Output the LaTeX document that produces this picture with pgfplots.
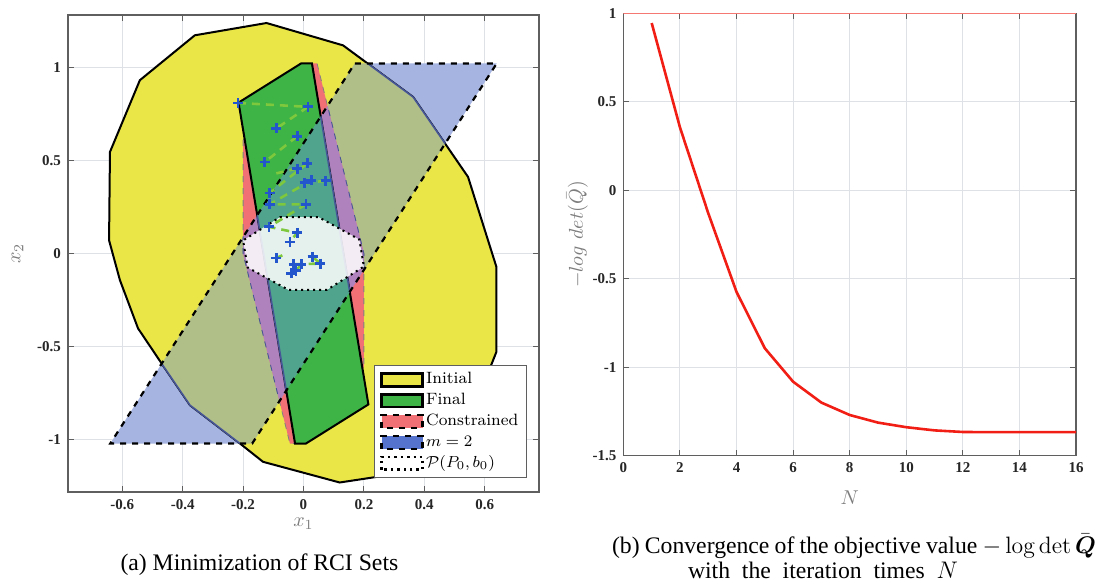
\documentclass[border=0pt]{standalone}
\usepackage{amsmath}
\usepackage{fontspec}
\usepackage{pgfplots}
\pgfplotsset{compat=1.18}
\newfontfamily\timesfont{Liberation Serif}
\definecolor{cyel}{RGB}{234,230,72}
\definecolor{cgreen}{RGB}{62,180,70}
\definecolor{cred}{RGB}{240,112,118}
\definecolor{cblue}{RGB}{85,115,205}
\definecolor{cbluel}{RGB}{165,180,225}
\definecolor{colive}{RGB}{176,190,135}
\definecolor{cteal}{RGB}{80,163,140}
\definecolor{cpurple}{RGB}{175,130,190}
\definecolor{cedge}{RGB}{70,85,150}
\definecolor{ctraj}{RGB}{125,200,60}
\definecolor{cmark}{RGB}{35,85,205}
\definecolor{cgrid}{RGB}{222,226,230}
\definecolor{caxis}{RGB}{95,95,95}
\definecolor{clabel}{RGB}{125,125,125}
\definecolor{ccurve}{RGB}{240,30,20}
\pgfplotsset{myarea/.style={legend image code/.code={\draw[##1] (0pt,-3.2pt) rectangle (20.5pt,3.2pt);}},
  common/.style={scale only axis, grid=major, major grid style={cgrid, line width=0.5pt},
    tick align=inside, xtick pos=both, ytick pos=both, major tick length=3pt,
    axis line style={caxis, line width=0.6pt}, tick style={caxis, line width=0.5pt},
    ticklabel style={font=\timesfont\bfseries\fontsize{7.5}{8}\selectfont, text=black!85},
    /pgf/number format/assume math mode=true,
    label style={font=\fontsize{10}{12}\selectfont, text=clabel}}}
\begin{document}
\begin{tikzpicture}
\begin{axis}[common, at={(34pt,46pt)}, anchor=south west, width=235.5pt, height=238.5pt,
  xmin=-0.78, xmax=0.78, ymin=-1.28, ymax=1.28,
  xtick={-0.6,-0.4,-0.2,0,0.2,0.4,0.6}, ytick={-1,-0.5,0,0.5,1},
  xlabel={$x_1$}, ylabel={$x_2$}, xlabel shift=-2.5pt, unbounded coords=jump,
  legend style={at={(rel axis cs:0.975,0.029)}, anchor=south east, draw=caxis, line width=0.6pt,
    fill=white, font=\fontsize{8.2}{10}\selectfont, row sep=0pt,
    nodes={inner sep=1.2pt, text height=6pt, text depth=2pt}},
  legend cell align=left]
\addlegendimage{myarea, fill=cyel, draw=black, line width=1.2pt}
\addlegendentry{Initial}
\addlegendimage{myarea, fill=cgreen, draw=black, line width=1.2pt}
\addlegendentry{Final}
\addlegendimage{myarea, fill=cred, draw=black, dashed, line width=1.2pt}
\addlegendentry{Constrained}
\addlegendimage{myarea, fill=cblue, draw=black, dashed, line width=1.2pt}
\addlegendentry{$m=2$}
\addlegendimage{myarea, fill=white, draw=black, dotted, line width=1.2pt}
\addlegendentry{$\mathcal{P}(P_0,b_0)$}
% m = 2 (outside the other sets)
\addplot[fill=cbluel, draw=none, forget plot] coordinates {
(0.17,1.02) (0.64,1.02) (-0.17,-1.02) (-0.64,-1.02)} -- cycle;
% Initial
\addplot[fill=cyel, draw=black, line width=1pt, forget plot] coordinates {
(-0.1225,1.237) (-0.36,1.171) (-0.542,0.930) (-0.641,0.545) (-0.644,0.071) (-0.608,-0.143)
(-0.548,-0.402) (-0.470,-0.590) (-0.376,-0.814) (-0.211,-1.019) (-0.134,-1.118) (0.12,-1.229)
(0.36,-1.17) (0.54,-0.93) (0.639,-0.528) (0.639,-0.072) (0.545,0.411) (0.363,0.840) (0.131,1.117)} -- cycle;
\begin{scope}
\clip plot coordinates {(0.17,1.02) (0.64,1.02) (-0.17,-1.02) (-0.64,-1.02)} -- cycle;
\addplot[fill=colive, draw=cedge, line width=0.8pt, forget plot] coordinates {
(-0.1225,1.237) (-0.36,1.171) (-0.542,0.930) (-0.641,0.545) (-0.644,0.071) (-0.608,-0.143)
(-0.548,-0.402) (-0.470,-0.590) (-0.376,-0.814) (-0.211,-1.019) (-0.134,-1.118) (0.12,-1.229)
(0.36,-1.17) (0.54,-0.93) (0.639,-0.528) (0.639,-0.072) (0.545,0.411) (0.363,0.840) (0.131,1.117)} -- cycle;
\end{scope}
% Constrained
\addplot[fill=cred, draw=black!50, dashed, line width=0.4pt, forget plot] coordinates {
(-0.2,0.61) (0.03,1.02) (0.045,1.02) (0.2,0.0) (0.2,-0.61) (-0.03,-1.02) (-0.045,-1.02) (-0.2,0.0)} -- cycle;
\begin{scope}
\clip plot coordinates {(0.17,1.02) (0.64,1.02) (-0.17,-1.02) (-0.64,-1.02)} -- cycle;
\addplot[fill=cpurple, draw=cedge, dashed, line width=0.4pt, forget plot] coordinates {
(-0.2,0.61) (0.03,1.02) (0.045,1.02) (0.2,0.0) (0.2,-0.61) (-0.03,-1.02) (-0.045,-1.02) (-0.2,0.0)} -- cycle;
\end{scope}
% Final
\addplot[fill=cgreen, draw=black, line width=1pt, forget plot] coordinates {
(-0.215,0.81) (-0.008,1.02) (0.028,1.02) (0.215,-0.81) (0.008,-1.02) (-0.028,-1.02)} -- cycle;
\begin{scope}
\clip plot coordinates {(0.17,1.02) (0.64,1.02) (-0.17,-1.02) (-0.64,-1.02)} -- cycle;
\addplot[fill=cteal, draw=cedge, line width=0.8pt, forget plot] coordinates {
(-0.215,0.81) (-0.008,1.02) (0.028,1.02) (0.215,-0.81) (0.008,-1.02) (-0.028,-1.02)} -- cycle;
\end{scope}
% m = 2 outline
\addplot[draw=black, dashed, line width=1.1pt, forget plot] coordinates {
(0.17,1.02) (0.64,1.02) (-0.17,-1.02) (-0.64,-1.02)} -- cycle;
% P(P0,b0)
\addplot[fill=white, fill opacity=0.85, draw=black, dotted, line width=1pt, forget plot] coordinates {
(-0.078,0.195) (0.05,0.195) (0.185,0.075) (0.2,-0.07) (0.078,-0.195) (-0.05,-0.195) (-0.185,-0.075) (-0.2,0.07)} -- cycle;
% trajectories
\addplot[ctraj, dash pattern=on 4pt off 3pt, line width=1.3pt, forget plot] coordinates {
(-0.217,0.808) (0.015,0.787) (-0.09,0.671) (0,nan)
(-0.021,0.629) (-0.128,0.491) (0,nan)
(0.012,0.483) (-0.112,0.325) (0,nan)
(0.074,0.39) (0.004,0.379) (0,nan)
(0.026,0.393) (-0.112,0.264) (0.008,0.264) (-0.114,0.143) (-0.021,0.111) (-0.045,0.062) (0,nan)
(-0.021,0.456) (-0.09,0.43) (0,nan)
(-0.09,-0.024) (-0.07,-0.01) (0,nan)
(0.03,-0.018) (0.056,-0.054) (-0.007,-0.057) (-0.032,-0.057) (-0.04,-0.107) (0,nan)
(-0.025,-0.093) (-0.007,-0.057)};
\addplot[only marks, mark=+, mark size=2.5pt, mark options={line width=1.4pt, cmark}, forget plot] coordinates {
(-0.217,0.808) (0.015,0.787) (-0.09,0.671) (-0.021,0.629) (-0.128,0.491) (0.012,0.483)
(-0.021,0.456) (0.026,0.393) (0.004,0.379) (0.074,0.39) (-0.112,0.325) (-0.112,0.264)
(0.008,0.264) (-0.114,0.143) (-0.021,0.111) (-0.045,0.062) (-0.09,-0.024) (0.03,-0.018)
(0.056,-0.054) (-0.007,-0.057) (-0.032,-0.057) (-0.04,-0.107) (-0.025,-0.093)};
\end{axis}
\begin{axis}[common, at={(311.7pt,64.15pt)}, anchor=south west, width=226.3pt, height=221.2pt,
  xmin=0, xmax=16, ymin=-1.5, ymax=1,
  xtick={0,2,4,6,8,10,12,14,16}, ytick={-1.5,-1,-0.5,0,0.5,1},
  xlabel={$N$}, ylabel={$-log\ det(\bar{Q})$}, xlabel shift=2pt, ylabel shift=-4.5pt]
\addplot[ccurve, line width=1.3pt] coordinates {
(1,0.945) (2,0.355) (3,-0.13) (4,-0.575) (5,-0.893) (6,-1.082) (7,-1.20) (8,-1.27)
(9,-1.313) (10,-1.339) (11,-1.357) (12,-1.366) (13,-1.367) (14,-1.367) (15,-1.367) (16,-1.367)};
\draw[ccurve!60, line width=0.6pt] (rel axis cs:0,1) -- (rel axis cs:1,1);
\end{axis}
\node[font=\timesfont\fontsize{11.85}{14}\selectfont] at (129.7pt,9.5pt) {(a) Minimization of RCI Sets};
\node[font=\timesfont\fontsize{11.85}{14}\selectfont] at (427pt,19pt) {\makebox[242pt][s]{(b) Convergence of the objective value $-\log\det\bar{\boldsymbol{Q}}$}};
\node[font=\timesfont\fontsize{11.85}{14}\selectfont] at (411.5pt,7pt) {\makebox[135pt][s]{with the iteration times $N$}};
\pgfresetboundingbox
\path[use as bounding box] (0pt,0pt) rectangle (548.5pt,292pt);
\end{tikzpicture}
\end{document}
